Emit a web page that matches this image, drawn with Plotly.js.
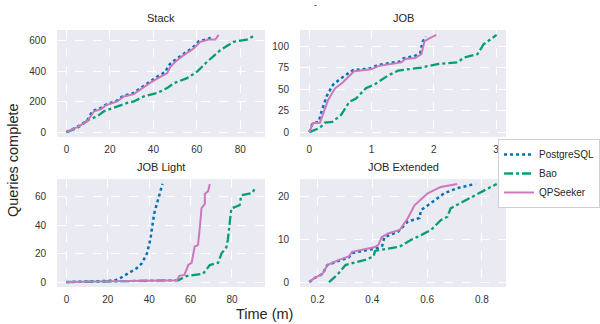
<!DOCTYPE html>
<html>
<head>
<meta charset="utf-8">
<script src="https://cdn.plot.ly/plotly-3.0.1.min.js"></script>
<style>html,body{margin:0;padding:0;background:#fff;}#chart{width:600px;height:324px;}</style>
</head>
<body>
<div id="chart"></div>
<script>
// ---- Data ----
const seriesNames = ["PostgreSQL", "Bao", "QPSeeker"];
const panelTitles = ["Stack", "JOB", "JOB Light", "JOB Extended"];

// Stack
const stackPgT = [0, 5, 9.5, 12, 15, 18, 23, 26, 30.5, 35, 39, 42.5, 45.5, 47, 49.5, 53.5, 58, 61, 65, 67.5];
const stackPgV = [0, 35, 75, 140, 152, 180, 205, 238, 255, 300, 340, 372, 395, 440, 470, 512, 555, 598, 612, 632];
const stackBaoT = [0, 5, 10.4, 14.2, 17.2, 23.4, 28, 31, 35.6, 41.7, 46.3, 49.4, 55.5, 60.1, 64.7, 70.8, 76.9, 83, 86.8];
const stackBaoV = [0, 28, 83, 104, 137, 170, 192, 202, 235, 257, 290, 322, 355, 398, 463, 540, 594, 609, 637];
const stackQpT = [0, 5, 9.6, 12.7, 15.8, 18.1, 23.4, 26.4, 31, 35.6, 39.4, 43.3, 46.3, 47.8, 50.1, 54, 58.5, 61.6, 65.4, 68.5, 70];
const stackQpV = [0, 33, 72, 137, 150, 176, 202, 235, 250, 296, 333, 365, 387, 430, 463, 507, 550, 594, 609, 609, 640];

// JOB
const jobPgT = [0, 0.05, 0.15, 0.2, 0.28, 0.38, 0.5, 0.7, 0.98, 1.1, 1.45, 1.52, 1.68, 1.78, 1.82, 1.87];
const jobPgV = [0, 10, 12, 25, 42, 55, 62, 72, 74, 78, 82, 86, 88, 92, 105, 111];
const jobBaoT = [0, 0.17, 0.25, 0.37, 0.51, 0.64, 0.75, 0.91, 1.06, 1.27, 1.43, 1.80, 2.06, 2.38, 2.49, 2.7, 2.8, 2.91, 3.01];
const jobBaoV = [0, 5, 11, 12, 20, 35, 39, 51, 56, 66, 71.5, 75, 79, 81, 86.7, 90.5, 102, 107.6, 113];
const jobQpT = [0, 0.06, 0.17, 0.22, 0.3, 0.41, 0.54, 0.72, 0.99, 1.12, 1.48, 1.54, 1.70, 1.80, 1.85, 1.93, 2.04];
const jobQpV = [0, 10.7, 11, 22, 37, 50.6, 58, 70.7, 73, 77, 81, 85, 86, 90.5, 105.7, 109, 113];

// JOB Light
const lightPgT = [0, 10, 20, 24, 26, 30, 34, 36.5, 38.9, 40.5, 41.3, 42.4, 43.7, 45, 46.4];
const lightPgV = [0, 0.3, 0.8, 1.5, 2.8, 6.3, 9.8, 13.3, 20, 29.6, 39, 48, 55, 62, 69];
const lightBaoT = [0, 20, 40, 54, 58, 66, 69.3, 73.3, 74.9, 77.3, 78, 79.7, 83.7, 84.5, 90, 91.4];
const lightBaoV = [0, 0.3, 0.8, 1.3, 4.2, 5.8, 12, 13.5, 20, 24.5, 29.6, 51.8, 54, 61, 62.7, 67];
const lightQpT = [0, 20, 40, 53.5, 54.5, 57, 58.9, 60.5, 62, 63.6, 64.5, 65.3, 66.9, 66.9, 68.5, 69.3];
const lightQpV = [0, 0.3, 0.8, 1.3, 4.4, 5, 12, 13.5, 25, 26, 39, 52, 55, 62, 64, 69];

// JOB Extended
const extPgT = [0.170, 0.188, 0.218, 0.236, 0.278, 0.314, 0.326, 0.42, 0.436, 0.444, 0.494, 0.53, 0.572, 0.578, 0.614, 0.662, 0.71, 0.776];
const extPgV = [0, 0.9, 1.9, 4, 5, 5.8, 6.8, 8, 8.5, 10.5, 11.8, 14.2, 15, 16.9, 18.5, 20.8, 22, 23];
const extBaoT = [0.242, 0.272, 0.302, 0.374, 0.404, 0.41, 0.50, 0.542, 0.578, 0.614, 0.65, 0.674, 0.686, 0.752, 0.8, 0.854];
const extBaoV = [0, 1.7, 4, 5.2, 6, 7.3, 8.3, 9.9, 11, 12.2, 14.5, 15.3, 17.3, 19.6, 21.2, 23];
const extQpT = [0.170, 0.188, 0.218, 0.236, 0.278, 0.314, 0.326, 0.41, 0.422, 0.434, 0.458, 0.50, 0.53, 0.554, 0.602, 0.65, 0.71];
const extQpV = [0, 0.93, 1.9, 4, 5.2, 6, 7.1, 8.2, 8.7, 10.5, 11.4, 12.2, 15, 18, 20.8, 22.3, 23];

// ---- Styles ----
const colors = ["#0173b2", "#029e73", "#cc78bc"];
const dashes = ["dot", "dashdot", "solid"];
const widths = [2.5, 2.3, 2];

const panels = [
  {x: "x", y: "y", data: [[stackPgT, stackPgV], [stackBaoT, stackBaoV], [stackQpT, stackQpV]]},
  {x: "x2", y: "y2", data: [[jobPgT, jobPgV], [jobBaoT, jobBaoV], [jobQpT, jobQpV]]},
  {x: "x3", y: "y3", data: [[lightPgT, lightPgV], [lightBaoT, lightBaoV], [lightQpT, lightQpV]]},
  {x: "x4", y: "y4", data: [[extPgT, extPgV], [extBaoT, extBaoV], [extQpT, extQpV]]}
];

const traces = [];
panels.forEach((p, pi) => {
  p.data.forEach((d, si) => {
    traces.push({
      x: d[0], y: d[1], xaxis: p.x, yaxis: p.y, type: "scatter", mode: "lines",
      name: seriesNames[si], legendgroup: seriesNames[si], showlegend: pi === 0,
      line: {color: colors[si], dash: dashes[si], width: widths[si]}
    });
  });
});

const W = 600, H = 324;
const fx = (a, b) => [a / W, b / W];
const fy = (top, bottom) => [1 - bottom / H, 1 - top / H];

function xax(domain, range, dtick, anchor) {
  return {domain, range, dtick, anchor, showgrid: true, gridcolor: "#ffffff", griddash: "dash", gridwidth: 1,
    zeroline: false, showline: false, ticks: "outside", ticklen: 3, tickcolor: "rgba(0,0,0,0)",
    tickfont: {family: "Liberation Sans, Arial, sans-serif", size: 10, color: "#333"}};
}
function yax(domain, range, dtick, anchor) {
  return {domain, range, dtick, anchor, showgrid: true, gridcolor: "#ffffff", griddash: "dash", gridwidth: 1,
    zeroline: false, showline: false, ticks: "outside", ticklen: 8, tickcolor: "rgba(0,0,0,0)",
    tickfont: {family: "Liberation Sans, Arial, sans-serif", size: 10, color: "#333"}};
}

const titleFont = {family: "Liberation Sans, Arial, sans-serif", size: 11, color: "#262626"};
const ann = (text, x, y, opts) => Object.assign({text, x: x / W, y: 1 - y / H, xref: "paper", yref: "paper",
  showarrow: false, xanchor: "center", yanchor: "middle", font: titleFont}, opts || {});

const layout = {
  width: W, height: H,
  margin: {l: 0, r: 0, t: 0, b: 0, autoexpand: false},
  paper_bgcolor: "#ffffff",
  plot_bgcolor: "#eaeaf2",
  showlegend: true,
  legend: {x: 1, y: 1 - 139 / H, xanchor: "right", yanchor: "top", bgcolor: "#ffffff",
    bordercolor: "#d0d0d0", borderwidth: 1, font: {family: "Liberation Sans, Arial, sans-serif", size: 10, color: "#262626"},
    tracegroupgap: 0, itemwidth: 30},
  xaxis: xax(fx(57, 265), [-4.35, 91.35], 20, "y"),
  yaxis: yax(fy(30, 137), [-32, 672], 200, "x"),
  xaxis2: xax(fx(300, 506), [-0.15, 3.16], 1, "y2"),
  yaxis2: yax(fy(30, 137), [-5.65, 118.65], 25, "x2"),
  xaxis3: xax(fx(57, 265), [-4.57, 95.97], 20, "y3"),
  yaxis3: yax(fy(179, 287), [-3.45, 72.45], 20, "x3"),
  xaxis4: xax(fx(300, 506), [0.136, 0.888], 0.2, "y4"),
  yaxis4: yax(fy(179, 287), [-1.15, 24.15], 10, "x4"),
  annotations: [
    ann(panelTitles[0], 161, 18),
    ann(panelTitles[1], 403, 18),
    ann(panelTitles[2], 161, 167),
    ann(panelTitles[3], 403, 167),
    ann("Time (m)", 264, 314, {font: {family: "Liberation Sans, Arial, sans-serif", size: 14.5, color: "#262626"}}),
    ann("Queries complete", 13, 160, {textangle: -90, font: {family: "Liberation Sans, Arial, sans-serif", size: 14.5, color: "#262626"}}),
    ann("-", 316, 5, {font: {family: "Liberation Sans, Arial, sans-serif", size: 9, color: "#262626"}})
  ]
};

Plotly.newPlot("chart", traces, layout, {staticPlot: true, displayModeBar: false});
</script>
</body>
</html>
